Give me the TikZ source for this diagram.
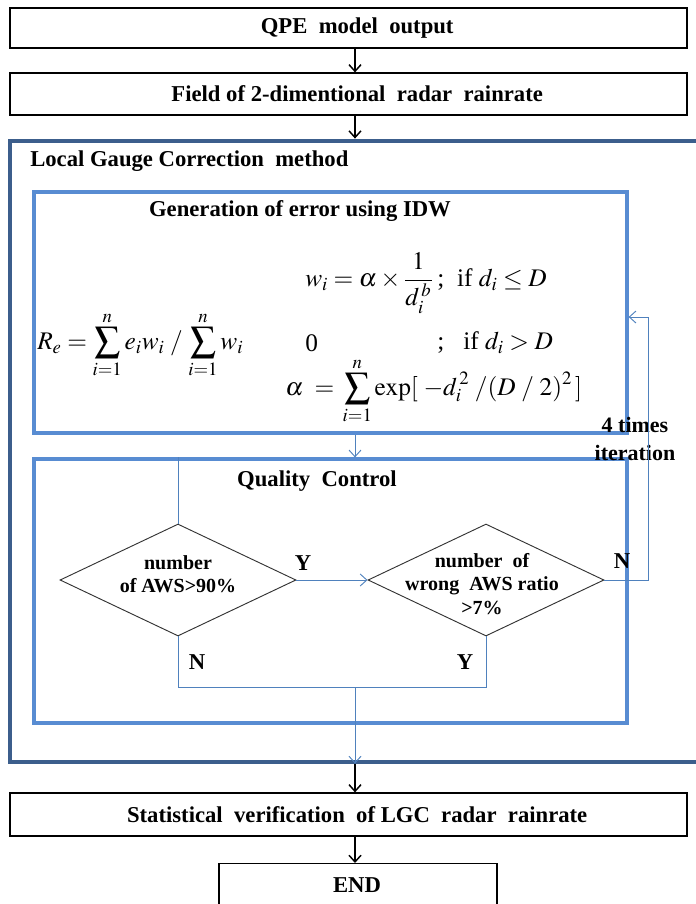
\documentclass[tikz,border=0pt]{standalone}
\usepackage{mathptmx}
\usepackage{fontspec}
\setmainfont{Liberation Serif}
\usetikzlibrary{arrows.meta,shapes.geometric,calc}
\definecolor{dkblue}{RGB}{60,94,140}
\definecolor{ltblue}{RGB}{88,140,210}
\definecolor{lnblue}{RGB}{79,129,189}
\begin{document}
\begin{tikzpicture}[x=0.75pt,y=-0.75pt,
  box/.style={draw=black,line width=0.9pt,minimum width=507.75pt,inner sep=0pt,font=\fontsize{17}{20}\selectfont\bfseries},
  outerbox/.style={draw=dkblue,line width=2.4pt,inner sep=0pt},
  innerbox/.style={draw=ltblue,line width=2.4pt,inner sep=0pt,minimum width=444.75pt},
  dec/.style={draw=black!80,line width=0.7pt,diamond,inner sep=0pt,minimum width=177pt,minimum height=84pt},
  dtext/.style={align=center,inner sep=0pt,font=\fontsize{15}{17.5}\selectfont\bfseries},
  blk/.style={draw=black,line width=1.1pt,-{Straight Barb[length=5pt,width=9pt,line width=1.1pt]}},
  bln/.style={draw=lnblue,line width=0.7pt},
  bla/.style={bln,-{Straight Barb[length=5pt,width=9pt,line width=0.7pt]}},
  lbl/.style={font=\fontsize{17}{20}\selectfont\bfseries,inner sep=0pt},
  mth/.style={font=\fontsize{19}{22}\selectfont,inner sep=0pt}]
\useasboundingbox (0,0) rectangle (696,904);
\clip (0,0) rectangle (696,904);
\coordinate (ax) at (355,0);
% top boxes
\node[box,minimum height=30pt] (qpe) at (348.5,28) {\hspace*{13pt}QPE\ \ model\ \ output};
\node[box,minimum height=31.5pt] (field) at (348.5,94) {\hspace*{13pt}Field of 2-dimentional\ \ radar\ \ rainrate};
% outer LGC box
\node[outerbox,minimum width=525pt,minimum height=465.75pt] (lgc) at (360,451.5) {};
\node[lbl,anchor=west] (lgct) at (30,161) {Local Gauge Correction\ \ method};
% IDW box
\node[innerbox,minimum height=180.75pt] (idw) at (330.5,312.5) {};
\node[lbl] (idwt) at (300,211) {Generation of error using IDW};
\node[mth,anchor=west] (re) at (37,345) {$\displaystyle R_{e} = \sum_{i=1}^{n} e_i w_i \;/\, \sum_{i=1}^{n} w_i$};
\node[mth,anchor=west] (w1) at (305,283) {$\displaystyle w_i = \alpha \times \frac{1}{d_i^{\,b}}$\,;\ \ if $d_i \le D$};
\node[mth,anchor=west] (w0) at (305,343) {0};
\node[mth,anchor=west] (w2) at (437,343) {;\ \ \ if $d_i > D$};
\node[mth,anchor=west] (al) at (285,391) {$\displaystyle \alpha \;=\, \sum_{i=1}^{n} \exp[\;-d_i^{\,2}\;/(D\;/\;2)^2\,]$};
% QC box
\node[innerbox,minimum height=198pt] (qc) at (330.5,591) {};
\node[lbl] (qct) at (317,481) {Quality\ \ Control};
\node[dec] (d1) at (178,580) {};
\node[dtext] (d1t) at (178,574) {number\\of AWS>90\%};
\node[dec] (d2) at (486,580) {};
\node[dtext] (d2t) at (482,584) {number\ \ of\\wrong\ \ AWS ratio\\>7\%};
\node[lbl] (y1) at (303,563) {Y};
\node[lbl] (n1) at (622,561) {N};
\node[lbl] (n2) at (197,662) {N};
\node[lbl] (y2) at (465,662) {Y};
\node[lbl,align=center,font=\fontsize{16.5}{21}\selectfont\bfseries] (iter) at (635,439) {4 times\\iteration};
% bottom boxes
\node[box,minimum height=32.25pt] (stat) at (348.5,814.5) {\hspace*{13pt}Statistical\ \ verification\ \ of LGC\ \ radar\ \ rainrate};
\node[box,minimum width=208.5pt,minimum height=45pt,anchor=north] (end) at (358,863) {};
\node[lbl] (endt) at (357,885) {END};
% coordinates
\coordinate (m1) at (178,687);
\coordinate (m2) at (486,687);
\coordinate (mm) at (355,687);
\coordinate (it1) at (648,580);
\coordinate (it2) at (648,317);
% black arrows
\draw[blk] (qpe.south -| ax) -- (field.north -| ax);
\draw[blk] (field.south -| ax) -- ([yshift=0.6pt]lgc.north -| ax);
\draw[blk] ([yshift=-0.6pt]lgc.south -| ax) -- (stat.north -| ax);
\draw[blk] (stat.south -| ax) -- (end.north -| ax);
% blue connectors
\draw[bla] (idw.south -| ax) -- (qc.north -| ax);
\draw[bln] (qc.north -| d1) -- (d1.north);
\draw[bla] (d1.east) -- (d2.west);
\draw[bln] (d1.south) -- (m1) -- (m2) -- (d2.south);
\draw[bla] (mm) -- (lgc.south -| ax);
\draw[bla] (d2.east) -- (it1) -- (it2) -- (idw.east |- it2);
\end{tikzpicture}
\end{document}
